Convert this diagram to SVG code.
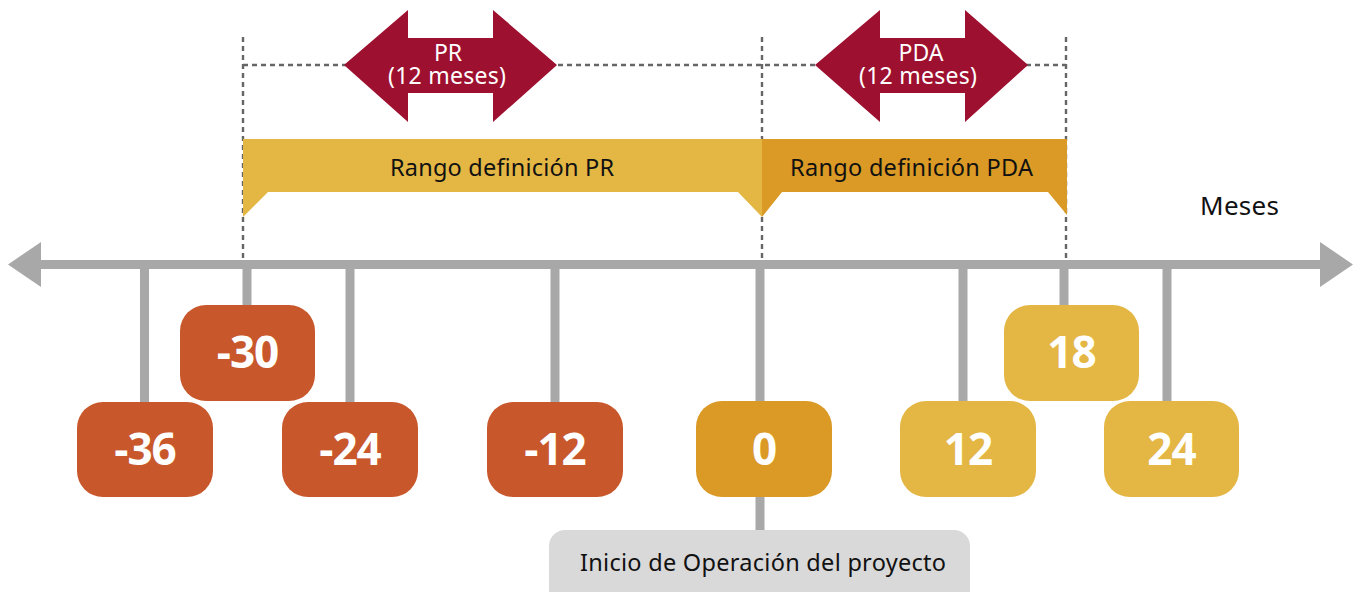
<svg xmlns="http://www.w3.org/2000/svg" width="1359" height="592" viewBox="0 0 1359 592">
<style>
.dot{stroke:#666;stroke-width:2.4;stroke-dasharray:5 4;fill:none}
.axis{fill:#A8A8A8}
.tick{stroke:#A8A8A8;stroke-width:9}
.neg{fill:#C8582C}
.zero{fill:#DB9A26}
.pos{fill:#E4B745}
.num{font-family:"Open Sans","Noto Sans",sans-serif;font-weight:bold;font-size:44px;fill:#fff;text-anchor:middle;letter-spacing:-1px}
.lbl{font-family:"Noto Sans","Open Sans",sans-serif;font-size:23.5px;fill:#111;text-anchor:middle}
.arrtxt{font-family:"Noto Sans","Open Sans",sans-serif;font-size:23px;fill:#fff;text-anchor:middle}
.dbl{fill:#9E1030}
</style>
<rect width="1359" height="592" fill="#fff"/>
<g id="connectors">
<path class="dot" d="M243 37V260M762 37V260M1066 37V260M243 65H1066"/>
<rect class="axis" x="38" y="260" width="1285" height="9"/>
<polygon class="axis" points="8,264.5 41,242 41,287"/>
<polygon class="axis" points="1353,264.5 1320,242 1320,287"/>
<path class="tick" d="M144.5 264V402M247 264V305M350 264V402M555 264V402M760 264V530M963 264V402M1064 264V305M1167 264V402"/>
</g>
<g id="arrow-pr">
<polygon class="dbl" points="344,65 408,10 408,38 493,38 493,10 557,65 493,122 493,93 408,93 408,122"/>
<text class="arrtxt" x="448" y="61">PR</text>
<text class="arrtxt" x="447" y="84" textLength="118">(12 meses)</text>
</g>
<g id="arrow-pda">
<polygon class="dbl" points="815,65 880,10 880,38 965,38 965,10 1028,65 965,122 965,93 880,93 880,122"/>
<text class="arrtxt" x="921" y="61">PDA</text>
<text class="arrtxt" x="918" y="84" textLength="118">(12 meses)</text>
</g>
<g id="range-pr">
<polygon class="pos" points="243,139 762,139 762,217 738,192 268,192 243,217"/>
<text class="lbl" x="502" y="176" textLength="224">Rango definición PR</text>
</g>
<g id="range-pda">
<polygon class="zero" points="762,139 1067,139 1067,215 1048,192 782,192 762,217"/>
<text class="lbl" x="911.5" y="176" textLength="243">Rango definición PDA</text>
</g>
<g id="meses"><text x="1200" y="215" textLength="79" style="font-family:'Noto Sans','Open Sans',sans-serif;font-size:26px;fill:#111">Meses</text></g>
<g id="n-36"><rect class="neg" x="77" y="402" width="136" height="95" rx="26"/><text class="num" x="145" y="465">-36</text></g>
<g id="n-30"><rect class="neg" x="180" y="305" width="135" height="96" rx="26"/><text class="num" x="247.5" y="368">-30</text></g>
<g id="n-24"><rect class="neg" x="282" y="402" width="136" height="95" rx="26"/><text class="num" x="350" y="465">-24</text></g>
<g id="n-12"><rect class="neg" x="487" y="402" width="136" height="95" rx="26"/><text class="num" x="555" y="465">-12</text></g>
<g id="n0"><rect class="zero" x="696" y="401" width="136" height="96" rx="26"/><text class="num" x="764" y="465">0</text></g>
<g id="n12"><rect class="pos" x="900" y="401" width="136" height="96" rx="26"/><text class="num" x="968" y="465">12</text></g>
<g id="n18"><rect class="pos" x="1004" y="305" width="135" height="96" rx="26"/><text class="num" x="1071.5" y="368">18</text></g>
<g id="n24"><rect class="pos" x="1104" y="401" width="135" height="96" rx="26"/><text class="num" x="1171.5" y="465">24</text></g>
<g id="inicio"><rect x="549" y="530" width="421" height="80" rx="16" fill="#D9D9D9"/><text x="580" y="571" textLength="366" style="font-family:'Noto Sans','Open Sans',sans-serif;font-size:23.5px;fill:#111">Inicio de Operación del proyecto</text></g>
</svg>
